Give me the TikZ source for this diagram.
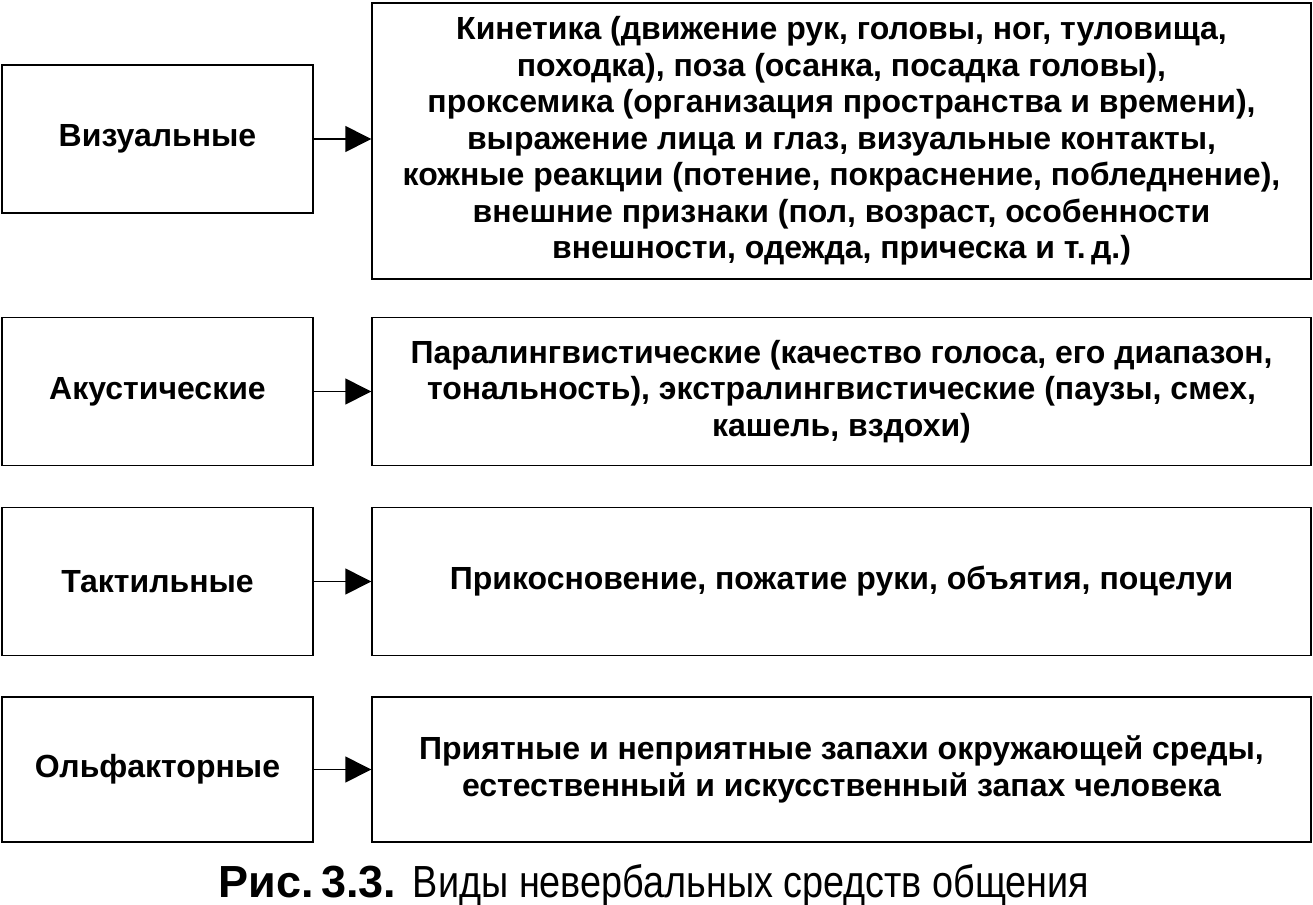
\documentclass[tikz,border=0pt]{standalone}
\usepackage{fontspec}
\setmainfont{Liberation Sans}
\newfontfamily\capfont[FakeStretch=0.84]{Liberation Sans}
\usetikzlibrary{arrows.meta, positioning}

\tikzset{
  kind/.style={draw, line width=0.7pt, minimum width=155.5pt, minimum height=74pt,
               inner sep=0pt, align=center, font=\fontsize{16}{18.25}\selectfont\bfseries},
  descr/.style={draw, line width=0.7pt, minimum width=469.5pt, minimum height=74pt,
                inner sep=0pt, align=center, font=\fontsize{16}{18.25}\selectfont\bfseries},
  link/.style={line width=0.7pt, -{Triangle[length=13pt, width=13pt]}}
}

\begin{document}
\begin{tikzpicture}[x=0.5pt, y=-0.5pt]
  \useasboundingbox (0,0) rectangle (1313,905);
  %% left column: kinds of signals, right column: what they include
  \node[kind] (vis) at (157.5,139) {Визуальные};
  \node[descr, minimum height=138pt] (visd) at (841.5,141)
    {Кинетика (движение рук, головы, ног, туловища,\\
     походка), поза (осанка, посадка головы),\\
     проксемика (организация пространства и времени),\\
     выражение лица и глаз, визуальные контакты,\\
     кожные реакции (потение, покраснение, побледнение),\\
     внешние признаки (пол, возраст, особенности\\
     внешности, одежда, прическа и т.\,д.)};

  \node[kind] (ac) at (157.5,391.5) {Акустические};
  \node[descr] (acd) at (841.5,391.5)
    {Паралингвистические (качество голоса, его диапазон,\\
     тональность), экстралингвистические (паузы, смех,\\
     кашель, вздохи)};

  \node[kind] (tac) at (157.5,581.5) {Тактильные};
  \node[descr] (tacd) at (841.5,581.5)
    {Прикосновение, пожатие руки, объятия, поцелуи};

  \node[kind, minimum height=72.5pt] (olf) at (157.5,769.5) {Ольфакторные};
  \node[descr, minimum height=72.5pt] (olfd) at (841.5,769.5)
    {Приятные и неприятные запахи окружающей среды,\\
     естественный и искусственный запах человека};

  \foreach \a/\b in {vis/visd, ac/acd, tac/tacd, olf/olfd}
    \draw[link] (\a.east) -- (\a.east -| \b.west);

  \node[font=\fontsize{22.5}{26}\selectfont] (cap) at (654,886)
    {\textbf{Рис.\,3.3.} {\capfont Виды невербальных средств общения}};
\end{tikzpicture}
\end{document}
